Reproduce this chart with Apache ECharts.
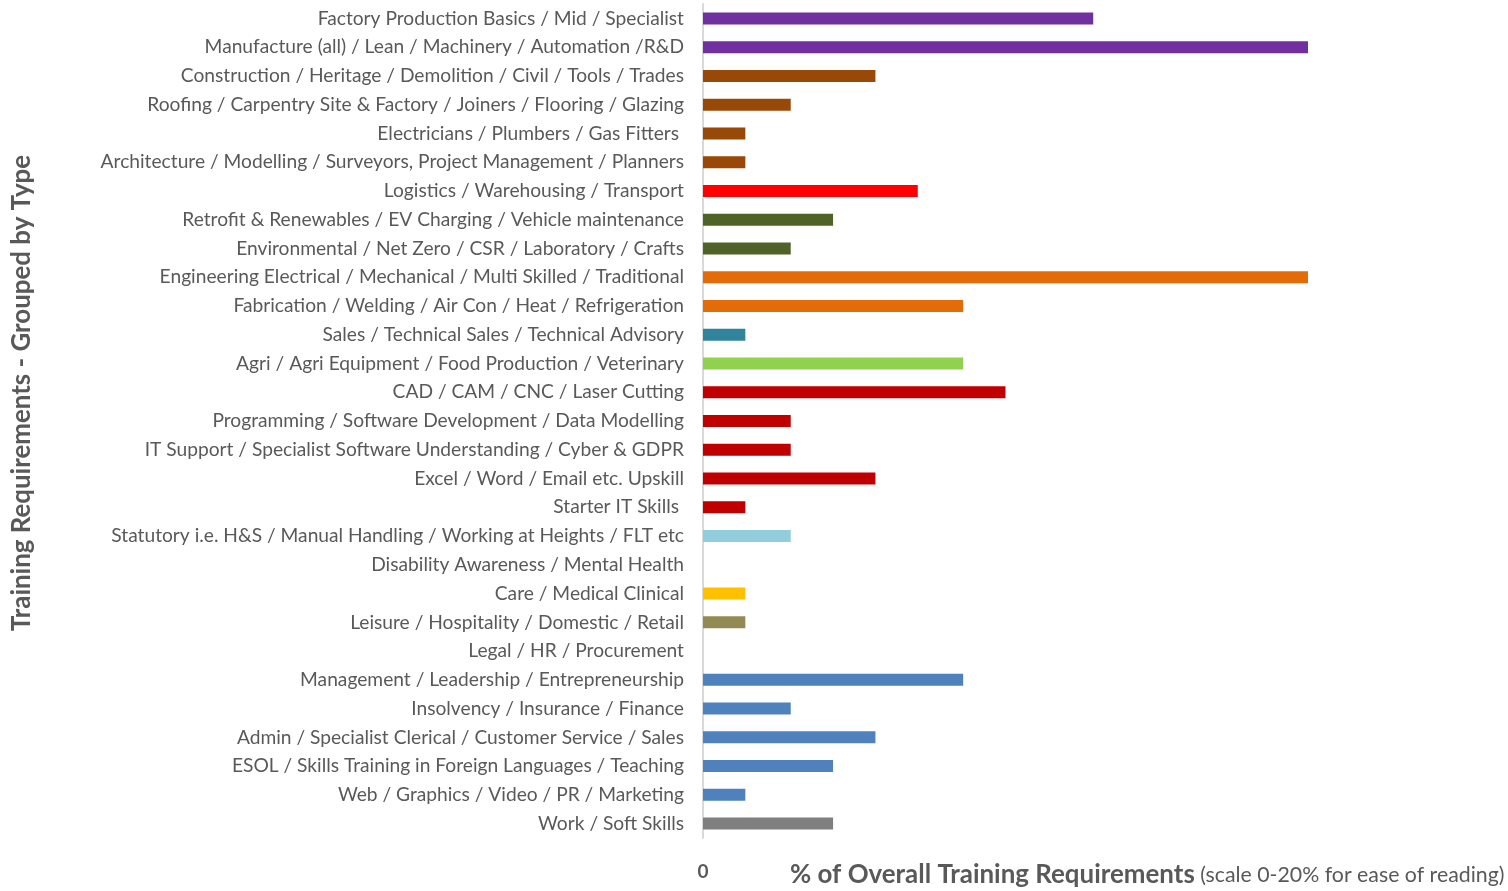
<!DOCTYPE html>
<html>
<head>
<meta charset="utf-8">
<script src="https://cdn.jsdelivr.net/npm/echarts@6/dist/echarts.min.js"></script>
<style>
  html, body { margin: 0; padding: 0; background: #fff; }
  #chart { width: 1508px; height: 891px; }
</style>
</head>
<body>
<div id="chart"></div>
<script>
// categories, top to bottom
var categories = [
    'Factory Production Basics / Mid / Specialist',
    'Manufacture (all) / Lean / Machinery / Automation /R&D',
    'Construction / Heritage / Demolition / Civil / Tools / Trades',
    'Roofing / Carpentry Site & Factory / Joiners / Flooring / Glazing',
    'Electricians / Plumbers / Gas Fitters ',
    'Architecture / Modelling / Surveyors, Project Management / Planners',
    'Logistics / Warehousing / Transport',
    'Retrofit & Renewables / EV Charging / Vehicle maintenance',
    'Environmental / Net Zero / CSR / Laboratory / Crafts',
    'Engineering Electrical / Mechanical / Multi Skilled / Traditional',
    'Fabrication / Welding / Air Con / Heat / Refrigeration',
    'Sales / Technical Sales / Technical Advisory',
    'Agri / Agri Equipment / Food Production / Veterinary',
    'CAD / CAM / CNC / Laser Cutting',
    'Programming / Software Development / Data Modelling',
    'IT Support / Specialist Software Understanding / Cyber & GDPR',
    'Excel / Word / Email etc. Upskill',
    'Starter IT Skills ',
    'Statutory i.e. H&S / Manual Handling / Working at Heights / FLT etc',
    'Disability Awareness / Mental Health',
    'Care / Medical Clinical',
    'Leisure / Hospitality / Domestic / Retail',
    'Legal / HR / Procurement',
    'Management / Leadership / Entrepreneurship',
    'Insolvency / Insurance / Finance',
    'Admin / Specialist Clerical / Customer Service / Sales',
    'ESOL / Skills Training in Foreign Languages / Teaching',
    'Web / Graphics / Video / PR / Marketing',
    'Work / Soft Skills'
];

// % of overall training requirements
var values = [
    12.9, 20, 5.7, 2.9, 1.4, 1.4, 7.1, 4.3, 2.9, 20,
    8.6, 1.4, 8.6, 10, 2.9, 2.9, 5.7, 1.4, 2.9, 0,
    1.4, 1.4, 0, 8.6, 2.9, 5.7, 4.3, 1.4, 4.3
];

// group colours
var colors = [
    '#7030A0', '#7030A0', '#984807', '#984807', '#984807', '#984807', '#FF0000', '#4F6228', '#4F6228', '#E36C09',
    '#E36C09', '#31849B', '#92D050', '#C00000', '#C00000', '#C00000', '#C00000', '#C00000', '#92CDDC', '#4F81BD',
    '#FFC000', '#948A54', '#4F81BD', '#4F81BD', '#4F81BD', '#4F81BD', '#4F81BD', '#4F81BD', '#7F7F7F'
];

var font = 'Lato, "Open Sans", sans-serif';

var chart = echarts.init(document.getElementById('chart'), null, { renderer: 'canvas' });

var option = {
    animation: false,
    textStyle: { fontFamily: font },
    grid: {
        left: 703,
        right: 200,
        top: 4,
        height: 834,
        containLabel: false
    },
    xAxis: {
        type: 'value',
        min: 0,
        max: 20,
        interval: 20,
        splitLine: { show: false },
        axisLine: { show: false },
        axisTick: { show: false },
        axisLabel: {
            margin: 24,
            color: '#595959',
            fontSize: 19,
            fontWeight: 'bold',
            fontFamily: font,
            formatter: function (v) { return v === 0 ? '0' : ''; }
        }
    },
    yAxis: {
        type: 'category',
        inverse: true,
        data: categories,
        axisLine: { show: true, lineStyle: { color: '#D9D9D9', width: 2 } },
        axisTick: { show: false },
        axisLabel: {
            margin: 19,
            color: '#595959',
            fontSize: 19.2,
            fontFamily: font
        }
    },
    series: [
        {
            type: 'bar',
            barWidth: 12,
            data: values.map(function (v, i) {
                return { value: v, itemStyle: { color: colors[i] } };
            })
        }
    ],
    graphic: [
        {
            type: 'text',
            left: 790,
            top: 862,
            style: {
                text: '{b|% of Overall Training Requirements}{s| (scale 0-20% for ease of reading)}',
                rich: {
                    b: { fontSize: 25.9, fontWeight: 'bold', fill: '#595959', fontFamily: font },
                    s: { fontSize: 21.3, fill: '#595959', fontFamily: font }
                }
            }
        },
        {
            type: 'text',
            x: 22,
            y: 393,
            rotation: Math.PI / 2,
            style: {
                text: 'Training Requirements - Grouped by Type',
                fontSize: 25.9,
                fontWeight: 'bold',
                fill: '#595959',
                fontFamily: font,
                align: 'center',
                verticalAlign: 'middle'
            }
        }
    ]
};

chart.setOption(option);
</script>
</body>
</html>
